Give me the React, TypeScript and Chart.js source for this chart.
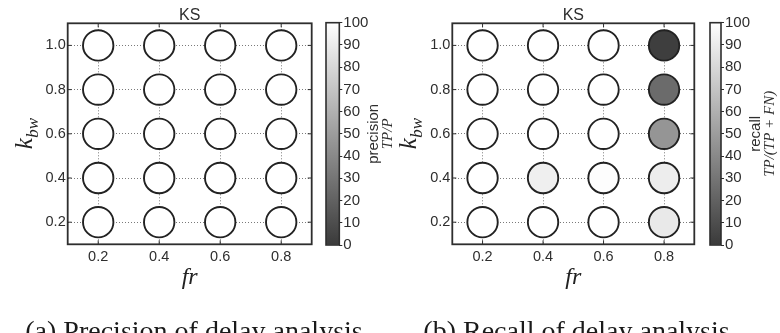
import React, { useEffect, useRef } from "react";
import { Chart, registerables } from "chart.js";

Chart.register(...registerables);

// ---- data -------------------------------------------------------------
const frValues = [0.2, 0.4, 0.6, 0.8];
const kbwValues = [1.0, 0.8, 0.6, 0.4, 0.2];
const frTicks = [0.2, 0.4, 0.6, 0.8];
const kbwTicks = [0.2, 0.4, 0.6, 0.8, 1.0];
const colorbarTicks = [0, 10, 20, 30, 40, 50, 60, 70, 80, 90, 100];

// precision TP/P (%), one row per k_bw (1.0 down to 0.2), columns follow frValues
const precisionK10 = [100, 100, 100, 100];
const precisionK08 = [100, 100, 100, 100];
const precisionK06 = [100, 100, 100, 100];
const precisionK04 = [100, 100, 100, 100];
const precisionK02 = [100, 100, 100, 100];

// recall TP/(TP+FN) (%), same layout
const recallK10 = [100, 100, 100, 2];
const recallK08 = [100, 100, 100, 25];
const recallK06 = [100, 100, 100, 46];
const recallK04 = [100, 92, 99, 91];
const recallK02 = [100, 100, 100, 89];

const precisionRows = [precisionK10, precisionK08, precisionK06, precisionK04, precisionK02];
const recallRows = [recallK10, recallK08, recallK06, recallK04, recallK02];

// ---- look -------------------------------------------------------------
const SANS = '"Liberation Sans", Arial, Helvetica, sans-serif';
const SERIF = '"Liberation Serif", "Times New Roman", serif';
const INK = "#2e2e2e";
const FIG_W = 780;
const FIG_H = 333;
const PANEL_W = 390;
const CB_CANVAS_W = 80;
const PLOT_TOP = 23.3;
const PLOT_BOTTOM = 244.3;
const CB_TOP = 22.7;
const CB_BOTTOM = 245;

// grey colormap: dark grey at 0 up to white at 100
const CMAP_LOW = 58;
function grey(v: number): string {
  const g = Math.round(CMAP_LOW + ((255 - CMAP_LOW) * v) / 100);
  return `rgb(${g},${g},${g})`;
}

type PanelLayout = {
  canvasLeft: number;
  plotLeft: number;
  plotRight: number;
  cbLeft: number;
  cbRight: number;
  captionX: number;
};

const layoutA: PanelLayout = {
  canvasLeft: 0,
  plotLeft: 67.7,
  plotRight: 311.7,
  cbLeft: 326,
  cbRight: 339.3,
  captionX: 194,
};
const layoutB: PanelLayout = {
  canvasLeft: 384,
  plotLeft: 452.3,
  plotRight: 694.3,
  cbLeft: 709.5,
  cbRight: 720.5,
  captionX: 576.5,
};

type PanelProps = {
  layout: PanelLayout;
  rows: number[][];
  caption: string;
  cbLabel: string;
  cbMath: string;
};

function Panel({ layout, rows, caption, cbLabel, cbMath }: PanelProps) {
  const mainRef = useRef<HTMLCanvasElement>(null);
  const cbRef = useRef<HTMLCanvasElement>(null);

  useEffect(() => {
    const points: { x: number; y: number }[] = [];
    const fills: string[] = [];
    kbwValues.forEach((k, i) => {
      frValues.forEach((fr, j) => {
        points.push({ x: fr, y: k });
        fills.push(grey(rows[i][j]));
      });
    });

    // frame, inward ticks, title, axis labels and caption
    const decor = {
      id: "panelDecor",
      afterDraw(chart: any) {
        const { ctx, chartArea: a, scales } = chart;
        ctx.save();
        ctx.strokeStyle = INK;
        ctx.lineWidth = 1.8;
        ctx.strokeRect(a.left, a.top, a.right - a.left, a.bottom - a.top);

        ctx.lineWidth = 1;
        ctx.beginPath();
        frTicks.forEach((v) => {
          const x = scales.x.getPixelForValue(v);
          ctx.moveTo(x, a.bottom);
          ctx.lineTo(x, a.bottom - 4);
          ctx.moveTo(x, a.top);
          ctx.lineTo(x, a.top + 4);
        });
        kbwTicks.forEach((v) => {
          const y = scales.y.getPixelForValue(v);
          ctx.moveTo(a.left, y);
          ctx.lineTo(a.left + 4, y);
          ctx.moveTo(a.right, y);
          ctx.lineTo(a.right - 4, y);
        });
        ctx.stroke();

        const cx = (a.left + a.right) / 2;
        const cy = (a.top + a.bottom) / 2;
        ctx.fillStyle = INK;
        ctx.textAlign = "center";
        ctx.textBaseline = "alphabetic";

        ctx.font = `16px ${SANS}`;
        ctx.fillText("KS", cx, a.top - 3.5);

        ctx.fillStyle = "#222";
        ctx.font = `italic 24px ${SERIF}`;
        ctx.fillText("fr", cx, 284);

        // k_bw, rotated to read bottom-to-top
        ctx.save();
        ctx.translate(a.left - 36, cy);
        ctx.rotate(-Math.PI / 2);
        ctx.textAlign = "left";
        ctx.font = `italic 25px ${SERIF}`;
        const wk = ctx.measureText("k").width;
        ctx.font = `italic 17px ${SERIF}`;
        const wb = ctx.measureText("bw").width;
        const start = -(wk + wb) / 2;
        ctx.font = `italic 25px ${SERIF}`;
        ctx.fillText("k", start, 0);
        ctx.font = `italic 17px ${SERIF}`;
        ctx.fillText("bw", start + wk + 0.5, 6);
        ctx.restore();

        ctx.fillStyle = "#1a1a1a";
        ctx.font = `28px ${SERIF}`;
        ctx.fillText(caption, layout.captionX - layout.canvasLeft, 340);
        ctx.restore();
      },
    };

    const axisFont = { family: SANS, size: 14.5 };
    const main = new Chart(mainRef.current as HTMLCanvasElement, {
      type: "scatter",
      data: {
        datasets: [
          {
            data: points,
            pointBackgroundColor: fills,
            pointBorderColor: "#222222",
            pointBorderWidth: 1.9,
            pointRadius: 15.2,
            pointHoverRadius: 15.2,
          },
        ],
      },
      options: {
        responsive: false,
        animation: false,
        devicePixelRatio: 1,
        events: [],
        layout: {
          padding: {
            top: PLOT_TOP,
            left: 0,
            bottom: 0,
            right: layout.canvasLeft + PANEL_W - layout.plotRight,
          },
        },
        plugins: {
          legend: { display: false },
          tooltip: { enabled: false },
          title: { display: false },
        },
        scales: {
          x: {
            type: "linear",
            min: 0.1,
            max: 0.9,
            afterBuildTicks: (s: any) => {
              s.ticks = frTicks.map((v) => ({ value: v }));
            },
            afterFit: (s: any) => {
              s.height = FIG_H - PLOT_BOTTOM;
            },
            grid: { color: "#7a7a7a", lineWidth: 1, drawTicks: false },
            border: { display: false, dash: [1, 2] },
            ticks: {
              padding: 4,
              color: INK,
              font: axisFont,
              autoSkip: false,
              maxRotation: 0,
              callback: (v: any) => Number(v).toFixed(1),
            },
          },
          y: {
            type: "linear",
            min: 0.1,
            max: 1.1,
            afterBuildTicks: (s: any) => {
              s.ticks = kbwTicks.map((v) => ({ value: v }));
            },
            afterFit: (s: any) => {
              s.width = layout.plotLeft - layout.canvasLeft;
            },
            grid: { color: "#7a7a7a", lineWidth: 1, drawTicks: false },
            border: { display: false, dash: [1, 2] },
            ticks: {
              padding: 2,
              color: INK,
              font: axisFont,
              autoSkip: false,
              callback: (v: any) => Number(v).toFixed(1),
            },
          },
        },
      },
      plugins: [decor],
    } as any);

    // colour bar: a single full-height bar on a 0..100 axis
    const cbWidth = layout.cbRight - layout.cbLeft;
    const cbDecor = {
      id: "cbDecor",
      afterDraw(chart: any) {
        const { ctx, chartArea: a } = chart;
        ctx.save();
        ctx.strokeStyle = INK;
        ctx.lineWidth = 1.6;
        ctx.strokeRect(a.left, a.top, a.right - a.left, a.bottom - a.top);
        const cy = (a.top + a.bottom) / 2;
        ctx.fillStyle = INK;
        ctx.textAlign = "center";
        ctx.textBaseline = "middle";
        ctx.save();
        ctx.translate(a.right + 35, cy);
        ctx.rotate(-Math.PI / 2);
        ctx.font = `15px ${SANS}`;
        ctx.fillText(cbLabel, 0, 0);
        ctx.restore();
        ctx.save();
        ctx.translate(a.right + 49, cy);
        ctx.rotate(-Math.PI / 2);
        ctx.font = `italic 15px ${SERIF}`;
        ctx.fillText(cbMath, 0, 0);
        ctx.restore();
        ctx.restore();
      },
    };

    const cb = new Chart(cbRef.current as HTMLCanvasElement, {
      type: "bar",
      data: {
        labels: [""],
        datasets: [
          {
            data: [100],
            borderWidth: 0,
            barPercentage: 1,
            categoryPercentage: 1,
            backgroundColor: (c: any) => {
              const chart = c.chart;
              const ys = chart.scales && chart.scales.y;
              if (!chart.chartArea || !ys) return grey(50);
              const g = chart.ctx.createLinearGradient(
                0,
                ys.getPixelForValue(colorbarTicks[0]),
                0,
                ys.getPixelForValue(colorbarTicks[colorbarTicks.length - 1])
              );
              g.addColorStop(0, grey(colorbarTicks[0]));
              g.addColorStop(1, grey(colorbarTicks[colorbarTicks.length - 1]));
              return g;
            },
          },
        ],
      },
      options: {
        responsive: false,
        animation: false,
        devicePixelRatio: 1,
        events: [],
        layout: {
          padding: { top: CB_TOP, bottom: FIG_H - CB_BOTTOM, left: 2, right: 0 },
        },
        plugins: { legend: { display: false }, tooltip: { enabled: false } },
        scales: {
          x: { display: false },
          y: {
            position: "right",
            min: 0,
            max: 100,
            afterBuildTicks: (s: any) => {
              s.ticks = colorbarTicks.map((v) => ({ value: v }));
            },
            afterFit: (s: any) => {
              s.width = CB_CANVAS_W - 2 - cbWidth;
            },
            grid: {
              drawOnChartArea: false,
              drawTicks: true,
              tickLength: 3,
              color: INK,
              lineWidth: 1,
            },
            border: { display: false },
            ticks: {
              padding: 1,
              color: INK,
              font: { family: SANS, size: 15 },
              autoSkip: false,
              callback: (v: any) => String(v),
            },
          },
        },
      },
      plugins: [cbDecor],
    } as any);

    return () => {
      main.destroy();
      cb.destroy();
    };
  }, [layout, rows, caption, cbLabel, cbMath]);

  return (
    <>
      <canvas
        ref={mainRef}
        width={PANEL_W}
        height={FIG_H}
        style={{ position: "absolute", left: layout.canvasLeft, top: 0, width: PANEL_W, height: FIG_H }}
      />
      <canvas
        ref={cbRef}
        width={CB_CANVAS_W}
        height={FIG_H}
        style={{ position: "absolute", left: layout.cbLeft - 2, top: 0, width: CB_CANVAS_W, height: FIG_H }}
      />
    </>
  );
}

export default function App() {
  return (
    <div
      style={{
        position: "fixed",
        left: 0,
        top: 0,
        width: FIG_W,
        height: FIG_H,
        overflow: "hidden",
        background: "#ffffff",
      }}
    >
      <Panel
        layout={layoutA}
        rows={precisionRows}
        caption="(a) Precision of delay analysis"
        cbLabel="precision"
        cbMath="TP/P"
      />
      <Panel
        layout={layoutB}
        rows={recallRows}
        caption="(b) Recall of delay analysis"
        cbLabel="recall"
        cbMath="TP/(TP + FN)"
      />
    </div>
  );
}
